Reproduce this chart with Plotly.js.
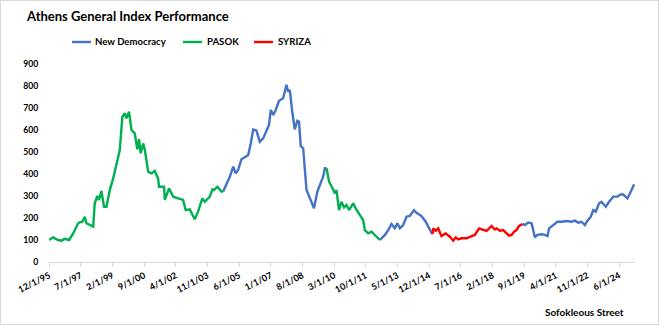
<!DOCTYPE html>
<html>
<head>
<meta charset="utf-8">
<script src="https://cdn.plot.ly/plotly-3.0.1.min.js"></script>
<style>
  html, body { margin: 0; padding: 0; background: #fff; }
  #wrap { position: relative; width: 659px; height: 326px; }
  #chart { width: 659px; height: 326px; }
  #frame { position: absolute; left: 0; top: 0; width: 659px; height: 325px; box-sizing: border-box; border: 1px solid #d9d9d9; pointer-events: none; }
</style>
</head>
<body>
<div id="wrap"><div id="chart"></div><div id="frame"></div></div>
<script>
// ---- Data (Athens General Index, rebased) ----
const seriesNames = ['New Democracy', 'PASOK', 'SYRIZA'];
const seriesColors = ['#4472C4', '#00B050', '#FF0000'];

const pasok1Dates = ['1995-12-01','1996-02-15','1996-05-15','1996-07-15','1996-09-15','1996-12-01','1997-02-15','1997-05-15','1997-06-15','1997-08-01','1997-09-15','1997-10-15','1998-02-15','1998-03-15','1998-05-01','1998-06-01','1998-07-15','1998-09-01','1998-10-15','1998-12-15','1999-02-15','1999-06-15','1999-08-01','1999-09-15','1999-10-15','1999-12-01','2000-01-15','2000-03-15','2000-05-01','2000-06-01','2000-07-01','2000-08-15','2000-09-15','2000-11-15','2001-01-15','2001-03-15','2001-05-15','2001-06-01','2001-09-01','2001-09-15','2001-12-01','2002-02-15','2002-05-15','2002-08-15','2002-10-01','2002-12-15','2003-03-15','2003-05-15','2003-08-01','2003-09-15','2003-12-15','2004-02-01','2004-03-01','2004-05-01','2004-07-15','2004-08-15'];
const pasok1Values = [100,112,100,97,105,100,130,176,180,183,206,176,161,267,300,282,323,251,251,327,380,509,660,676,653,683,600,585,512,558,494,539,509,410,403,414,380,342,342,282,335,297,289,282,236,239,194,229,289,274,297,330,327,342,320,320];

const nd1Dates = ['2004-08-15','2004-12-15','2005-02-15','2005-04-01','2005-05-15','2005-07-15','2005-09-15','2005-11-15','2006-01-01','2006-02-15','2006-04-15','2006-06-15','2006-08-15','2006-10-15','2006-12-01','2007-01-01','2007-02-15','2007-04-01','2007-06-01','2007-08-15','2007-10-15','2007-11-15','2007-12-15','2008-02-01','2008-03-15','2008-05-01','2008-06-01','2008-07-01','2008-08-15','2008-10-15','2008-12-15','2009-03-01','2009-05-01','2009-07-01','2009-08-15','2009-09-15','2009-10-15'];
const nd1Values = [320,388,433,403,418,467,476,486,539,603,597,547,562,600,623,691,668,691,733,744,805,774,782,676,603,642,638,527,517,327,289,244,320,365,388,426,426];

const pasok2Dates = ['2009-10-15','2009-12-01','2010-02-01','2010-03-15','2010-04-15','2010-06-01','2010-07-15','2010-09-01','2010-10-15','2010-12-01','2011-02-15','2011-04-01','2011-06-15','2011-08-15','2011-09-15','2011-11-15','2012-01-15','2012-03-15','2012-05-01','2012-06-15'];
const pasok2Values = [426,365,335,312,327,236,274,248,259,236,267,244,214,191,145,130,138,123,112,100];

const nd2Dates = ['2012-06-15','2012-09-15','2012-11-15','2013-01-15','2013-03-15','2013-05-01','2013-06-15','2013-08-15','2013-10-15','2013-12-15','2014-03-01','2014-04-15','2014-07-15','2014-10-01','2014-11-15','2015-02-01'];
const nd2Values = [100,123,145,173,153,176,153,168,206,209,236,224,209,183,161,127];

const syrizaDates = ['2015-02-01','2015-02-15','2015-04-01','2015-05-15','2015-07-15','2015-10-01','2015-12-15','2016-02-15','2016-04-01','2016-05-15','2016-07-15','2016-10-15','2017-01-15','2017-03-15','2017-06-01','2017-08-15','2017-10-15','2018-01-15','2018-03-15','2018-04-15','2018-06-15','2018-08-15','2018-10-15','2018-12-01','2019-01-15','2019-03-01','2019-04-15','2019-06-01','2019-08-01'];
const syrizaValues = [127,153,142,153,118,130,115,97,112,103,108,108,118,123,153,148,141,164,148,153,142,145,130,120,123,138,145,164,173];

const nd3Dates = ['2019-08-01','2019-09-15','2019-11-15','2020-01-15','2020-02-15','2020-03-15','2020-05-01','2020-07-15','2020-09-15','2020-11-01','2020-12-01','2021-01-15','2021-03-01','2021-05-01','2021-07-15','2021-10-15','2022-01-15','2022-03-15','2022-05-15','2022-07-15','2022-09-15','2022-11-01','2023-01-01','2023-02-15','2023-04-01','2023-06-01','2023-07-15','2023-10-01','2023-12-01','2024-02-15','2024-05-01','2024-06-15','2024-08-01','2024-09-15','2024-11-01','2025-01-01','2025-03-01'];
const nd3Values = [173,168,179,176,145,112,123,126,123,118,153,161,168,183,183,186,183,188,179,183,168,188,206,236,229,267,274,251,274,297,297,305,309,297,289,320,353];

const tickDates = ['1995-12-01','1997-07-01','1999-02-01','2000-09-01','2002-04-01','2003-11-01','2005-06-01','2007-01-01','2008-08-01','2010-03-01','2011-10-01','2013-05-01','2014-12-01','2016-07-01','2018-02-01','2019-09-01','2021-04-01','2022-11-01','2024-06-01'];
const xRange = ['1995-12-01', '2025-03-18'];
const yTicks = [0,100,200,300,400,500,600,700,800,900];

// ---- Build ----
const FONT = 'Lato, "Open Sans", sans-serif';
const segments = [
  [nd1Dates, nd1Values, 0], [nd2Dates, nd2Values, 0], [nd3Dates, nd3Values, 0],
  [pasok1Dates, pasok1Values, 1], [pasok2Dates, pasok2Values, 1],
  [syrizaDates, syrizaValues, 2]
];
const traces = segments.map(([x, y, s]) => ({
  type: 'scatter', mode: 'lines', x: x, y: y, name: seriesNames[s],
  legendgroup: seriesNames[s], showlegend: false,
  line: { color: seriesColors[s], width: 2.4 }, hoverinfo: 'skip'
}));

// plot area in pixels: x 49..635, y 64..262
const L = 49, R = 24, T = 64, B = 64, W = 659 - L - R, H = 326 - T - B;
const px = p => (p - L) / W;
const py = p => (326 - B - p) / H;

const legendLayout = [[72, 93], [183, 205], [254, 276]];
const shapes = [], annotations = [];
seriesNames.forEach((n, i) => {
  const [lx, tx] = legendLayout[i];
  shapes.push({ type: 'line', xref: 'paper', yref: 'paper', x0: px(lx), x1: px(lx + 19), y0: py(42), y1: py(42),
    line: { color: seriesColors[i], width: 2.4 } });
  annotations.push({ xref: 'paper', yref: 'paper', x: px(tx), y: py(42), xanchor: 'left', yanchor: 'middle',
    text: n, showarrow: false, font: { family: FONT, size: 9.6, weight: 700, color: '#000' } });
});
annotations.push({ xref: 'paper', yref: 'paper', x: px(626), y: py(312), xanchor: 'right', yanchor: 'middle',
  text: 'Sofokleous Street', showarrow: false, font: { family: FONT, size: 10, weight: 700, color: '#000' } });

const layout = {
  width: 659, height: 326,
  margin: { l: L, r: R, t: T, b: B, pad: 0 },
  paper_bgcolor: '#fff', plot_bgcolor: '#fff',
  showlegend: false,
  title: { text: 'Athens General Index Performance', xref: 'container', yref: 'container',
    x: 27 / 659, xanchor: 'left', y: 1 - 16 / 326, yanchor: 'middle',
    font: { family: FONT, size: 13, weight: 700, color: '#000' } },
  xaxis: {
    type: 'date', range: xRange, tickvals: tickDates, tickformat: '%-m/%-d/%y',
    tickangle: -27, showgrid: false, zeroline: false,
    showline: true, linecolor: '#d9d9d9', linewidth: 1,
    ticks: 'outside', ticklen: 4, tickcolor: '#d9d9d9',
    tickfont: { family: FONT, size: 9, weight: 700, color: '#000' }
  },
  yaxis: {
    range: [0, 900], tickvals: yTicks, showgrid: false, zeroline: false, showline: false,
    ticks: 'outside', ticklen: 8, tickcolor: 'rgba(0,0,0,0)',
    tickfont: { family: FONT, size: 8.6, weight: 700, color: '#000' }
  },
  shapes: shapes, annotations: annotations
};

Plotly.newPlot('chart', traces, layout, { staticPlot: true, displayModeBar: false });
</script>
</body>
</html>
